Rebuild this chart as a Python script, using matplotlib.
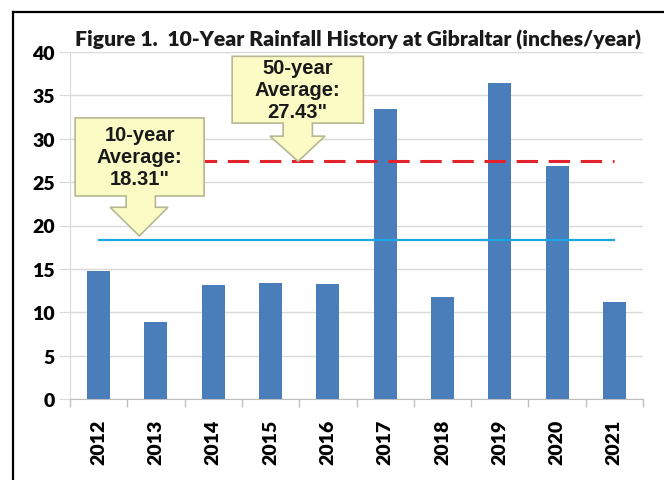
import matplotlib
matplotlib.use("Agg")
import matplotlib.pyplot as plt
from matplotlib.patches import Polygon
from matplotlib.lines import Line2D

years = ["2012", "2013", "2014", "2015", "2016", "2017", "2018", "2019", "2020", "2021"]
rainfall = [14.8, 8.9, 13.1, 13.4, 13.2, 33.4, 11.8, 36.4, 26.9, 11.2]
avg10 = 18.31
avg50 = 27.43
yticks = [0, 5, 10, 15, 20, 25, 30, 35, 40]
title = "Figure 1.  10-Year Rainfall History at Gibraltar (inches/year)"
label10 = '10-year\nAverage:\n18.31"'
label50 = '50-year\nAverage:\n27.43"'

W, H = 664, 481
fig = plt.figure(figsize=(W / 100, H / 100), dpi=100)
fig.patch.set_facecolor("white")

ax = fig.add_axes([70 / W, 1 - 400 / H, 573 / W, 347 / H])
x = list(range(len(years)))
ax.bar(x, rainfall, width=0.4, color="#4A7EBB", zorder=3)
ax.set_xlim(-0.5, len(years) - 0.5)
ax.set_ylim(0, 40)

ax.set_yticks(yticks)
ax.set_yticklabels([str(v) for v in yticks], fontfamily="Lato", fontweight="heavy", fontsize=14)
ax.yaxis.grid(True, color="#D9D9D9", linewidth=1.0, zorder=0)
ax.tick_params(axis="y", length=8, color="#D9D9D9", pad=3)

ax.set_xticks(x)
ax.set_xticklabels(years, rotation=90, fontfamily="Lato", fontweight="heavy", fontsize=14)
ax.tick_params(axis="x", length=0, pad=14)
ax.set_xticks([i - 0.5 for i in range(len(years) + 1)], minor=True)
ax.tick_params(axis="x", which="minor", length=6, color="#BFBFBF", width=1)

for s in ["top", "right"]:
    ax.spines[s].set_visible(False)
ax.spines["left"].set_color("#D9D9D9")
ax.spines["bottom"].set_color("#BFBFBF")

# average lines
ax.plot([0, len(years) - 1], [avg10, avg10], color="#1AA7E4", linewidth=1.6, zorder=4)
ax.plot([0, len(years) - 1], [avg50, avg50], color="#E2232B", linewidth=2.2,
        dashes=(7, 3.5), zorder=4)


def callout(ax, box, stem, shoulder, head, tip, text):
    bx0, bx1, by0, by1 = box
    sx0, sx1 = stem
    hx0, hx1 = head
    tx, ty = tip
    pts = [(bx0, by1), (bx1, by1), (bx1, by0), (sx1, by0), (sx1, shoulder),
           (hx1, shoulder), (tx, ty), (hx0, shoulder), (sx0, shoulder),
           (sx0, by0), (bx0, by0)]
    ax.add_patch(Polygon(pts, closed=True, facecolor="#FBFBC6", edgecolor="#B7B793",
                         linewidth=1.2, zorder=6, clip_on=False))
    ax.text((bx0 + bx1) / 2, (by0 + by1) / 2, text, ha="center", va="center",
            fontfamily="Liberation Sans", fontweight="bold", fontsize=14.5,
            linespacing=1.2, color="#1A1A1A", zorder=7)


callout(ax, (-0.41, 1.84, 23.4, 32.4), (0.48, 0.99), 22.1, (0.20, 1.21), (0.71, 18.8), label10)
callout(ax, (2.33, 4.62, 31.8, 39.5), (3.22, 3.73), 30.3, (2.99, 3.95), (3.48, 27.4), label50)

fig.text(358 / W, 1 - 40 / H, title, ha="center", va="center",
         fontfamily="Lato", fontweight="heavy", fontsize=15.2, color="#1A1A1A")

# outer frame
fig.add_artist(Line2D([12.5 / W, 1.0], [1 - 12.5 / H, 1 - 12.5 / H], color="black", linewidth=1.6))
fig.add_artist(Line2D([12.5 / W, 12.5 / W], [0.0, 1 - 12.5 / H], color="black", linewidth=1.6))

fig.savefig("out.png", dpi=100)
